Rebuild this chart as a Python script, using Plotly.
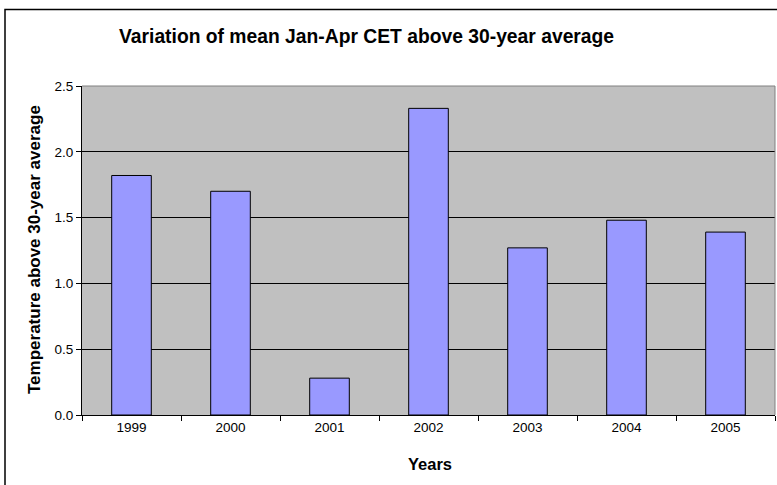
import plotly.graph_objects as go

years = ["1999", "2000", "2001", "2002", "2003", "2004", "2005"]
anomaly = [1.82, 1.70, 0.28, 2.33, 1.27, 1.48, 1.39]
y_ticks = [0.0, 0.5, 1.0, 1.5, 2.0, 2.5]
y_tick_text = ["0.0", "0.5", "1.0", "1.5", "2.0", "2.5"]

W, H = 777, 485
ML, MR, MT, MB = 82, 2, 86, 70
pw, ph = W - ML - MR, H - MT - MB


def px_x(x):
    return (x - ML) / pw


def px_y(y):
    return (H - MB - y) / ph


FONT = "Liberation Sans, Arial, sans-serif"

fig = go.Figure(
    go.Bar(
        x=years,
        y=anomaly,
        marker=dict(color="#9999FF", line=dict(color="#000000", width=1)),
        width=0.4,
    )
)

fig.update_layout(
    width=W,
    height=H,
    margin=dict(l=ML, r=MR, t=MT, b=MB),
    paper_bgcolor="white",
    plot_bgcolor="#C0C0C0",
    showlegend=False,
    font=dict(family=FONT, size=13.5, color="black"),
    shapes=[
        # outer chart frame
        dict(type="rect", xref="paper", yref="paper",
             x0=px_x(5), x1=px_x(790), y0=px_y(495), y1=px_y(9.5),
             line=dict(color="black", width=1.5), layer="above"),
        # plot area top and right edges
        dict(type="line", xref="paper", yref="paper", x0=0, x1=1, y0=1, y1=1,
             line=dict(color="#808080", width=1), layer="above"),
        dict(type="line", xref="paper", yref="paper", x0=1, x1=1, y0=0, y1=1,
             line=dict(color="#808080", width=1), layer="above"),
    ],
    annotations=[
        dict(text="<b>Variation of mean Jan-Apr CET above 30-year average</b>",
             xref="paper", yref="paper", x=px_x(366), y=px_y(37),
             xanchor="center", yanchor="middle", showarrow=False,
             font=dict(family=FONT, size=19.3)),
        dict(text="<b>Years</b>",
             xref="paper", yref="paper", x=px_x(430), y=px_y(464),
             xanchor="center", yanchor="middle", showarrow=False,
             font=dict(family=FONT, size=16.5)),
        dict(text="<b>Temperature above 30-year average</b>",
             xref="paper", yref="paper", x=px_x(34), y=px_y(250),
             xanchor="center", yanchor="middle", showarrow=False, textangle=-90,
             font=dict(family=FONT, size=17)),
    ],
)

fig.update_xaxes(
    type="category",
    showline=True, linecolor="black", linewidth=1,
    ticks="outside", tickson="boundaries", ticklen=5, tickcolor="black",
    showgrid=False,
    tickfont=dict(family=FONT, size=13.5),
)
fig.update_yaxes(
    range=[0, 2.5],
    tickvals=y_ticks, ticktext=y_tick_text,
    showline=True, linecolor="black", linewidth=1,
    ticks="outside", ticklen=5, tickcolor="black",
    showgrid=True, gridcolor="#000000", gridwidth=1,
    zeroline=False,
    tickfont=dict(family=FONT, size=13.5),
)

fig.write_html("out.html")
